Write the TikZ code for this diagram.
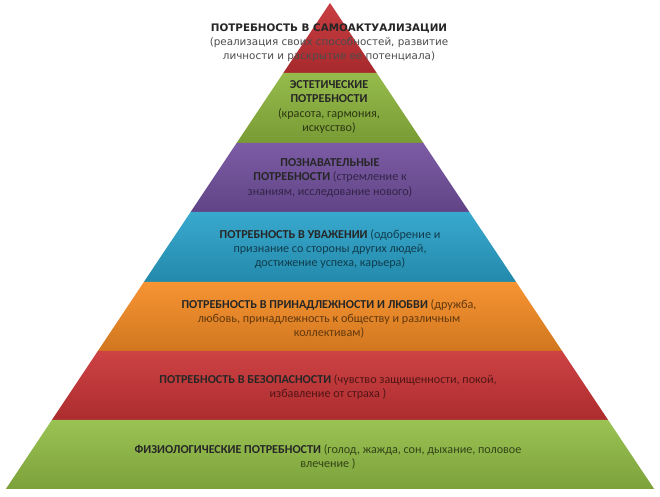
\documentclass[tikz,border=0pt]{standalone}
\usepackage{fontspec}
\setmainfont{Carlito}
\newfontfamily\peakfont{DejaVu Sans}
\definecolor{peakred}{RGB}{196,48,52}
\definecolor{artgreen}{RGB}{142,182,62}
\definecolor{mindpurple}{RGB}{114,80,158}
\definecolor{esteemblue}{RGB}{42,162,202}
\definecolor{loveorange}{RGB}{246,140,36}
\definecolor{safered}{RGB}{202,52,54}
\definecolor{bodygreen}{RGB}{146,190,70}
\newcommand{\needhead}[1]{\textbf{\textcolor{black!85}{#1}}}

\begin{document}
\begin{tikzpicture}[x=0.02cm, y=0.02cm,
  layertext/.style={align=center, inner sep=0pt, text=#1,
    font=\fontsize{6.9}{8}\selectfont},
  peaktext/.style={align=center, inner sep=0pt, text=black!70,
    font=\peakfont\fontsize{5.9}{7.9}\selectfont}]
\useasboundingbox (0,0) rectangle (660,497);
\fill[white] (0,0) rectangle (660,497);
% pyramid layers, from the peak down
\foreach \yt/\yb/\c in {494/424/peakred, 424/354/artgreen, 354/285/mindpurple,
    285/215/esteemblue, 215/146/loveorange, 146/77/safered, 77/8/bodygreen}
  \shade[top color=\c!93!white, bottom color=\c!85!black]
    ({330-0.667*(494-\yt)},\yt) -- ({330+0.667*(494-\yt)},\yt)
    -- ({330+0.667*(494-\yb)},\yb) -- ({330-0.667*(494-\yb)},\yb) -- cycle;
% labels
\node[peaktext] (selfact) at (329,454)
  {\textbf{\textcolor{black!85}{ПОТРЕБНОСТЬ В САМОАКТУАЛИЗАЦИИ}}\\
   (реализация своих способностей, развитие\\
   личности и раскрытие ее потенциала)};
\node[layertext=artgreen!30!black] (aesthetic) at (329,390)
  {\needhead{ЭСТЕТИЧЕСКИЕ}\\ \needhead{ПОТРЕБНОСТИ}\\ (красота, гармония,\\ искусство)};
\node[layertext=mindpurple!45!black] (cognitive) at (330,319)
  {\needhead{ПОЗНАВАТЕЛЬНЫЕ}\\ \needhead{ПОТРЕБНОСТИ} (стремление к\\ знаниям, исследование нового)};
\node[layertext=esteemblue!38!black] (esteem) at (330,248)
  {\needhead{ПОТРЕБНОСТЬ В УВАЖЕНИИ} (одобрение и\\ признание со стороны других людей,\\ достижение успеха, карьера)};
\node[layertext=loveorange!40!black] (belonging) at (329,178)
  {\needhead{ПОТРЕБНОСТЬ В ПРИНАДЛЕЖНОСТИ И ЛЮБВИ} (дружба,\\ любовь, принадлежность к обществу и различным\\ коллективам)};
\node[layertext=safered!40!black] (safety) at (328,110)
  {\needhead{ПОТРЕБНОСТЬ В БЕЗОПАСНОСТИ} (чувство защищенности, покой,\\ избавление от страха )};
\node[layertext=bodygreen!35!black] (physio) at (328,40)
  {\needhead{ФИЗИОЛОГИЧЕСКИЕ ПОТРЕБНОСТИ} (голод, жажда, сон, дыхание, половое\\ влечение )};
\end{tikzpicture}
\end{document}
